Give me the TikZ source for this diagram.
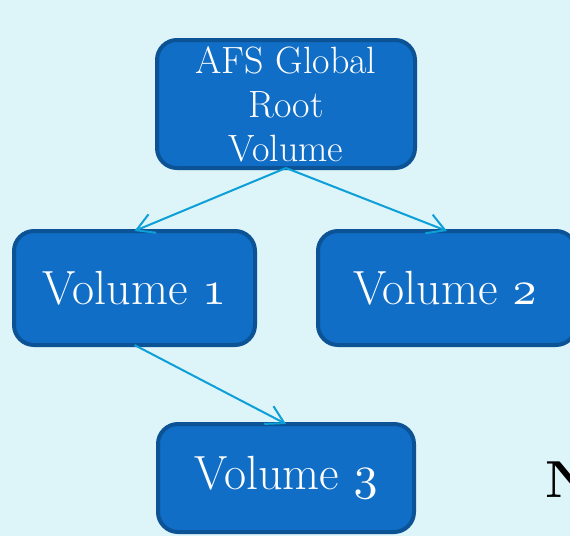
\documentclass[tikz,border=0pt]{standalone}
\usetikzlibrary{arrows.meta}
\definecolor{pagebg}{HTML}{DDF4F8}
\definecolor{boxfill}{HTML}{106EC6}
\definecolor{boxline}{HTML}{0B5395}
\definecolor{linkcol}{HTML}{0C9FD8}
% old-style figures: set at 10pt, then enlarged to the label size
\newcommand{\volnum}[1]{\scalebox{4.8}{\fontsize{10}{12}\usefont{OML}{cmm}{m}{it}#1}}
\tikzset{
  volbox/.style={draw=boxline, fill=boxfill, line width=4pt, rounded corners=20pt,
    outer sep=0pt, inner sep=0pt, text=white, align=center},
  bigtext/.style={font=\fontsize{48}{52}\selectfont},
  link/.style={draw=linkcol, line width=2pt,
    -{Straight Barb[angle=60:20pt, line width=2pt]}}
}
\begin{document}
\begin{tikzpicture}[x=1pt, y=-1pt]
  \useasboundingbox (0,0) rectangle (570,536);
  \fill[pagebg] (0,0) rectangle (570,536);
  \clip (0,0) rectangle (570,536);

  % volume tree
  \node[volbox, minimum width=258pt, minimum height=128pt,
        font=\fontsize{38}{44}\selectfont] (root) at (286,104)
        {AFS Global\\Root\\Volume};
  \node[volbox, bigtext, minimum width=241pt, minimum height=114pt] (v1) at (134.5,288)
        {Volume \volnum{1}};
  \node[volbox, bigtext, minimum width=258pt, minimum height=114pt] (v2) at (447,288)
        {\hspace*{-4pt}Volume \volnum{2}};
  \node[volbox, bigtext, minimum width=256pt, minimum height=108pt] (v3) at (286,478)
        {Volume \volnum{3}};

  \draw[link] (root.south) -- (v1.north);
  \draw[link] (root.south) -- (v2.north);
  \draw[link] (v1.south) -- (v3.north);

  % letter running off the edge
  \node[anchor=base west, inner sep=0pt, font=\fontsize{52}{56}\selectfont\bfseries]
        (nl) at (545,497) {N};
\end{tikzpicture}
\end{document}
